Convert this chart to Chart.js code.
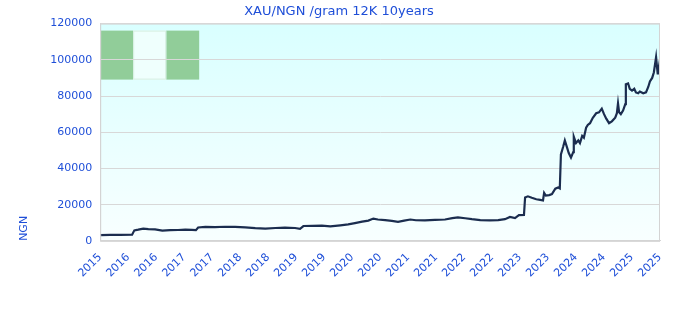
<!DOCTYPE html>
<html>
<head>
<meta charset="utf-8">
<script src="https://cdn.jsdelivr.net/npm/chart.js@4/dist/chart.umd.min.js"></script>
<style>
  html, body { margin: 0; padding: 0; background: #fff; }
  #wrap { width: 680px; height: 320px; }
</style>
</head>
<body>
<div id="wrap"><canvas id="goldChart"></canvas></div>
<script>
// valores (ano decimal -> NGN por grama 12K)
const years = [
  2015.90, 2016.08, 2016.26, 2016.47, 2016.51, 2016.58, 2016.67, 2016.76, 2016.88, 2017.01,
  2017.15, 2017.29, 2017.42, 2017.54, 2017.61, 2017.65, 2017.78, 2017.95, 2018.13, 2018.31,
  2018.49, 2018.67, 2018.85, 2019.03, 2019.20, 2019.38, 2019.47, 2019.53, 2019.69, 2019.86,
  2020.01, 2020.19, 2020.33, 2020.45, 2020.58, 2020.69, 2020.78, 2020.86, 2020.99, 2021.11,
  2021.22, 2021.33, 2021.44, 2021.54, 2021.70, 2021.88, 2022.06, 2022.19, 2022.29, 2022.42,
  2022.54, 2022.69, 2022.86, 2023.01, 2023.13, 2023.22, 2023.31, 2023.38, 2023.47, 2023.49,
  2023.54, 2023.61, 2023.69, 2023.76, 2023.81, 2023.83, 2023.86, 2023.92, 2023.97, 2024.03,
  2024.08, 2024.11, 2024.13, 2024.17, 2024.20, 2024.24, 2024.27, 2024.31, 2024.35, 2024.36,
  2024.40, 2024.44, 2024.47, 2024.51, 2024.54, 2024.58, 2024.61, 2024.65, 2024.70, 2024.76,
  2024.81, 2024.86, 2024.90, 2024.94, 2024.99, 2025.04, 2025.10, 2025.13, 2025.15, 2025.17,
  2025.20, 2025.24, 2025.28, 2025.29, 2025.33, 2025.36, 2025.40, 2025.44, 2025.47, 2025.51,
  2025.54, 2025.60, 2025.65, 2025.69, 2025.72, 2025.76, 2025.79, 2025.83, 2025.85, 2025.86,
  2025.88, 2025.90
];
const prices = [
  3200, 3300, 3300, 3400, 5800, 6200, 6800, 6500, 6300, 5700,
  5900, 6000, 6200, 6100, 5900, 7400, 7700, 7600, 7800, 7700,
  7500, 7000, 6800, 7100, 7300, 7100, 6700, 8200, 8300, 8400,
  8000, 8600, 9100, 9800, 10600, 11200, 12300, 11800, 11500, 11000,
  10500, 11200, 11800, 11400, 11300, 11600, 11800, 12600, 13000, 12500,
  12000, 11500, 11300, 11500, 12000, 13200, 12600, 14200, 14300, 24000,
  24600, 23800, 23000, 22600, 22300, 26500, 25000, 25300, 25800, 28800,
  29500, 29000, 47800, 52000, 55500, 51500, 48500, 46000, 49000, 57500,
  54000, 55500, 54000, 58000, 57000, 62500, 64000, 65000, 68000, 70500,
  71000, 73000, 70000, 67500, 65000, 66000, 68000, 70500, 76000, 71000,
  70000, 72000, 75500, 86500, 87000, 84000, 83000, 84000, 82000, 81500,
  82500, 81500, 82000, 85000, 88000, 90000, 93000, 101500, 95000, 92000,
  96000, 92000
];
const tickLabels = ['2015', '2016', '2016', '2017', '2017', '2018', '2018', '2019', '2019', '2020', '2020',
  '2021', '2021', '2022', '2022', '2023', '2023', '2024', '2024', '2025', '2025'];
const yTicks = [0, 20000, 40000, 60000, 80000, 100000, 120000];

const blue = '#1f4fd8';
const font = { family: 'DejaVu Sans', size: 11 };

// fundo em degradê + blocos verdes no canto
const fundoPlugin = {
    id: 'fundo',
    beforeDraw(chart) {
        const { ctx, chartArea: a } = chart;
        ctx.save();
        const g = ctx.createLinearGradient(0, a.top, 0, a.bottom);
        g.addColorStop(0, '#d9ffff');
        g.addColorStop(1, '#f8ffff');
        ctx.fillStyle = g;
        ctx.fillRect(a.left, a.top, a.right - a.left, a.bottom - a.top);
        const w = 33, top = a.top + 7, h = 49;
        ctx.fillStyle = '#91cd99';
        ctx.fillRect(a.left, top, w, h);
        ctx.fillRect(a.left + 2 * w, top, w, h);
        ctx.fillStyle = '#effffd';
        ctx.fillRect(a.left + w, top, w, h);
        ctx.strokeStyle = '#d6eee0';
        ctx.lineWidth = 1;
        ctx.strokeRect(a.left + w + 0.5, top + 0.5, w - 1, h - 1);
        ctx.restore();
    },
    afterDatasetsDraw(chart) {
        const { ctx, chartArea: a } = chart;
        ctx.save();
        ctx.strokeStyle = '#d4d4d4';
        ctx.lineWidth = 1;
        ctx.strokeRect(a.left + 0.5, a.top + 0.5, a.right - a.left - 1, a.bottom - a.top);
        ctx.restore();
    }
};

new Chart(document.getElementById('goldChart'), {
    type: 'line',
    data: {
        datasets: [{
            data: years.map((x, i) => ({ x, y: prices[i] })),
            borderColor: '#1b2d4f',
            borderWidth: 2.2,
            pointRadius: 0,
            tension: 0,
            fill: false
        }]
    },
    options: {
        responsive: true,
        maintainAspectRatio: false,
        animation: false,
        layout: { padding: { left: 18, right: 20, top: 0, bottom: 38 } },
        plugins: {
            legend: { display: false },
            tooltip: { enabled: false },
            title: {
                display: true,
                text: 'XAU/NGN /gram 12K 10years',
                color: blue,
                font: { family: 'DejaVu Sans', size: 13, weight: 'normal' },
                padding: { top: 4, bottom: 4 }
            }
        },
        scales: {
            x: {
                type: 'linear',
                min: years[0],
                max: years[years.length - 1],
                ticks: {
                    stepSize: 0.5,
                    color: blue,
                    font,
                    minRotation: 45,
                    maxRotation: 45,
                    autoSkip: false,
                    padding: 2,
                    callback: (v, i) => tickLabels[i]
                },
                grid: { display: false },
                border: { display: true, color: '#d4d4d4' }
            },
            y: {
                min: yTicks[0],
                max: yTicks[yTicks.length - 1],
                afterBuildTicks: axis => { axis.ticks = yTicks.map(value => ({ value })); },
                ticks: { color: blue, font, padding: 8, callback: v => String(v) },
                grid: { color: '#d8d8d8', drawTicks: false },
                border: { display: true, color: '#d4d4d4' },
                title: {
                    display: true,
                    text: 'NGN',
                    align: 'start',
                    color: blue,
                    font,
                    padding: { top: 0, bottom: 11 }
                }
            }
        }
    },
    plugins: [fundoPlugin]
});
</script>
</body>
</html>
